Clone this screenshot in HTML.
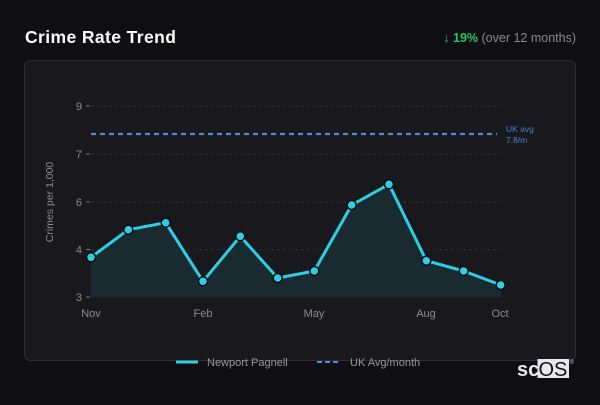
<!DOCTYPE html>
<html><head><meta charset="utf-8"><style>
html,body{margin:0;padding:0;background:#0e0e13;}
body{width:600px;height:400px;overflow:hidden;font-family:"Liberation Sans",sans-serif;}
</style></head><body>
<svg width="600" height="400" viewBox="0 0 600 400" xmlns="http://www.w3.org/2000/svg" font-family="Liberation Sans, sans-serif">
<rect x="0" y="0" width="600" height="400" fill="#0e0e13"/>
<text x="25" y="43" font-size="17.5" font-weight="bold" fill="#ffffff" letter-spacing="0.4">Crime Rate Trend</text>
<text x="576" y="42" font-size="12.5" text-anchor="end"><tspan fill="#22c55e">↓ </tspan><tspan fill="#22c55e" font-weight="bold">19%</tspan><tspan fill="#8a8a8e"> (over 12 months)</tspan></text>
<rect x="24.5" y="60.5" width="551" height="300" rx="6" fill="#18181d" stroke="#2e2e35"/>
<g stroke="#2e2e36" stroke-dasharray="3,3" stroke-width="1">
<line x1="91" y1="106" x2="500" y2="106"/>
<line x1="91" y1="154" x2="500" y2="154"/>
<line x1="91" y1="202" x2="500" y2="202"/>
<line x1="91" y1="249.5" x2="500" y2="249.5"/>
<line x1="91" y1="297" x2="500" y2="297"/>
</g>
<g stroke="#777" stroke-width="1">
<line x1="86" y1="106" x2="90" y2="106"/>
<line x1="86" y1="154" x2="90" y2="154"/>
<line x1="86" y1="202" x2="90" y2="202"/>
<line x1="86" y1="249.5" x2="90" y2="249.5"/>
<line x1="86" y1="297" x2="90" y2="297"/>
</g>
<g font-size="11" fill="#8c8c90" text-anchor="end">
<text x="82" y="110">9</text>
<text x="82" y="158">7</text>
<text x="82" y="206">6</text>
<text x="82" y="253.5">4</text>
<text x="82" y="301">3</text>
</g>
<text transform="translate(53,202) rotate(-90)" font-size="10.5" fill="#8c8c90" text-anchor="middle">Crimes per 1,000</text>
<g font-size="11" fill="#8c8c90" text-anchor="middle">
<text x="91" y="317">Nov</text>
<text x="203" y="317">Feb</text>
<text x="314" y="317">May</text>
<text x="426" y="317">Aug</text>
<text x="500" y="317">Oct</text>
</g>
<polygon points="91,297 91,257.3 128.3,229.7 165.7,222.7 203,281.3 240.3,236.3 277.7,278 314.3,271 351.7,205 389,184.3 426.3,260.7 463.7,271 500.7,285 500.7,297" fill="#1a2a31"/>
<line x1="91" y1="134" x2="497" y2="134" stroke="#5089dc" stroke-width="2.2" stroke-dasharray="5,4"/>
<text x="506" y="132" font-size="8.5" fill="#4a7fd8">UK avg</text>
<text x="506" y="143" font-size="8.5" fill="#4a7fd8">7.8/m</text>
<polyline points="91,257.3 128.3,229.7 165.7,222.7 203,281.3 240.3,236.3 277.7,278 314.3,271 351.7,205 389,184.3 426.3,260.7 463.7,271 500.7,285" fill="none" stroke="#2dcfe4" stroke-width="3" stroke-linejoin="round"/>
<g fill="#2dcfe4" stroke="#0b0b0e" stroke-width="1.5">
<circle cx="91" cy="257.3" r="4.5"/>
<circle cx="128.3" cy="229.7" r="4.5"/>
<circle cx="165.7" cy="222.7" r="4.5"/>
<circle cx="203" cy="281.3" r="4.5"/>
<circle cx="240.3" cy="236.3" r="4.5"/>
<circle cx="277.7" cy="278" r="4.5"/>
<circle cx="314.3" cy="271" r="4.5"/>
<circle cx="351.7" cy="205" r="4.5"/>
<circle cx="389" cy="184.3" r="4.5"/>
<circle cx="426.3" cy="260.7" r="4.5"/>
<circle cx="463.7" cy="271" r="4.5"/>
<circle cx="500.7" cy="285" r="4.5"/>
</g>
<line x1="176" y1="362" x2="198" y2="362" stroke="#2dcfe4" stroke-width="3"/>
<text x="207" y="366" font-size="11" fill="#9a9a9e">Newport Pagnell</text>
<line x1="317" y1="362" x2="341" y2="362" stroke="#5089dc" stroke-width="2" stroke-dasharray="5,3"/>
<text x="350" y="366" font-size="11" fill="#9a9a9e">UK Avg/month</text>
<rect x="537.5" y="359" width="31.5" height="19" fill="#e8e8e8"/>
<text x="517" y="376" font-size="20" font-weight="bold" fill="#e8e8e8">sc</text>
<text x="538.5" y="376" font-size="20" fill="#111">OS</text>
<text x="569.5" y="364" font-size="6" fill="#bbb">®</text>
</svg>
</body></html>
